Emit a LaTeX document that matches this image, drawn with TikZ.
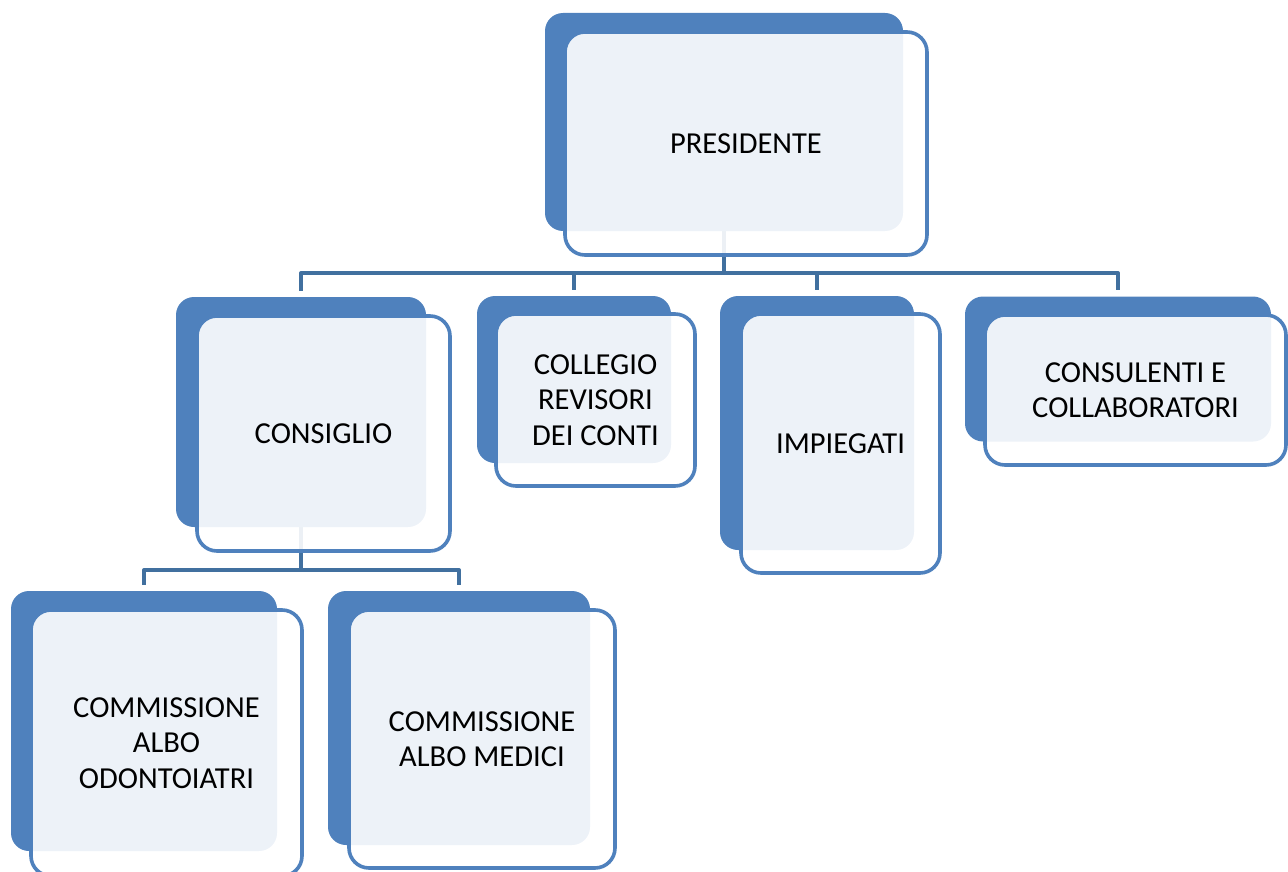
\documentclass[tikz,border=0pt]{standalone}
\usepackage{fontspec}
\setmainfont{Carlito}
\usetikzlibrary{calc}
\pgfdeclarelayer{bg}
\pgfsetlayers{bg,main}
\definecolor{backblue}{HTML}{4F81BD}
\definecolor{lineblue}{HTML}{41709F}
\tikzset{
  backbox/.style={fill=backblue, draw=none, rounded corners=18pt, inner sep=0pt},
  frontbox/.style={draw=backblue, line width=3.6pt, fill=white, fill opacity=0.9, text opacity=1,
    rounded corners=20pt, inner sep=0pt, align=center,
    font=\fontsize{30.5pt}{35.5pt}\selectfont},
  conn/.style={draw=lineblue, line width=4.2pt, line join=round}
}
\begin{document}
\begin{tikzpicture}[x=1pt,y=-1pt]
\useasboundingbox (0,0) rectangle (1288,872);
% back boxes
\node[backbox, minimum width=358pt, minimum height=218pt] (pres-b) at (724,122) {};
\node[backbox, minimum width=250pt, minimum height=230pt] (cons-b) at (301,412) {};
\node[backbox, minimum width=194pt, minimum height=167pt] (coll-b) at (574,379.5) {};
\node[backbox, minimum width=194pt, minimum height=254pt] (imp-b) at (817,423) {};
\node[backbox, minimum width=306pt, minimum height=145pt] (consul-b) at (1118,369) {};
\node[backbox, minimum width=266pt, minimum height=260pt] (odo-b) at (144,721) {};
\node[backbox, minimum width=262pt, minimum height=254pt] (med-b) at (459,718) {};
% front boxes
\node[frontbox, minimum width=362pt, minimum height=223pt] (pres) at (746,143.5) {PRESIDENTE};
\node[frontbox, minimum width=253pt, minimum height=235pt] (cons) at (323.5,433.5) {CONSIGLIO};
\node[frontbox, minimum width=199pt, minimum height=172pt] (coll) at (595.5,400) {COLLEGIO\\REVISORI\\DEI CONTI};
\node[frontbox, minimum width=199pt, minimum height=259pt] (imp) at (840.5,443.5) {IMPIEGATI};
\node[frontbox, minimum width=301pt, minimum height=150pt] (consul) at (1135.5,390) {CONSULENTI E\\COLLABORATORI};
\node[frontbox, minimum width=271pt, minimum height=266pt] (odo) at (166.5,743) {COMMISSIONE\\ALBO\\ODONTOIATRI};
\node[frontbox, minimum width=266pt, minimum height=258pt] (med) at (482,739) {COMMISSIONE\\ALBO MEDICI};
% connectors
\begin{pgfonlayer}{bg}
\coordinate (j1) at ($(pres-b.south)+(0,42)$);
\coordinate (j2) at ($(cons-b.south)+(0,43)$);
\draw[conn] (pres-b.south) -- (j1);
\draw[conn] ($(cons-b.north)+(0,-6)$) |- (j1) -| ($(consul-b.north)+(0,-6)$);
\draw[conn] (coll-b.north |- j1) -- ($(coll-b.north)+(0,-6)$);
\draw[conn] (imp-b.north |- j1) -- ($(imp-b.north)+(0,-6)$);
\draw[conn] (cons-b.south) -- (j2);
\draw[conn] ($(odo-b.north)+(0,-6)$) |- (j2) -| ($(med-b.north)+(0,-6)$);
\end{pgfonlayer}
\end{tikzpicture}
\end{document}
